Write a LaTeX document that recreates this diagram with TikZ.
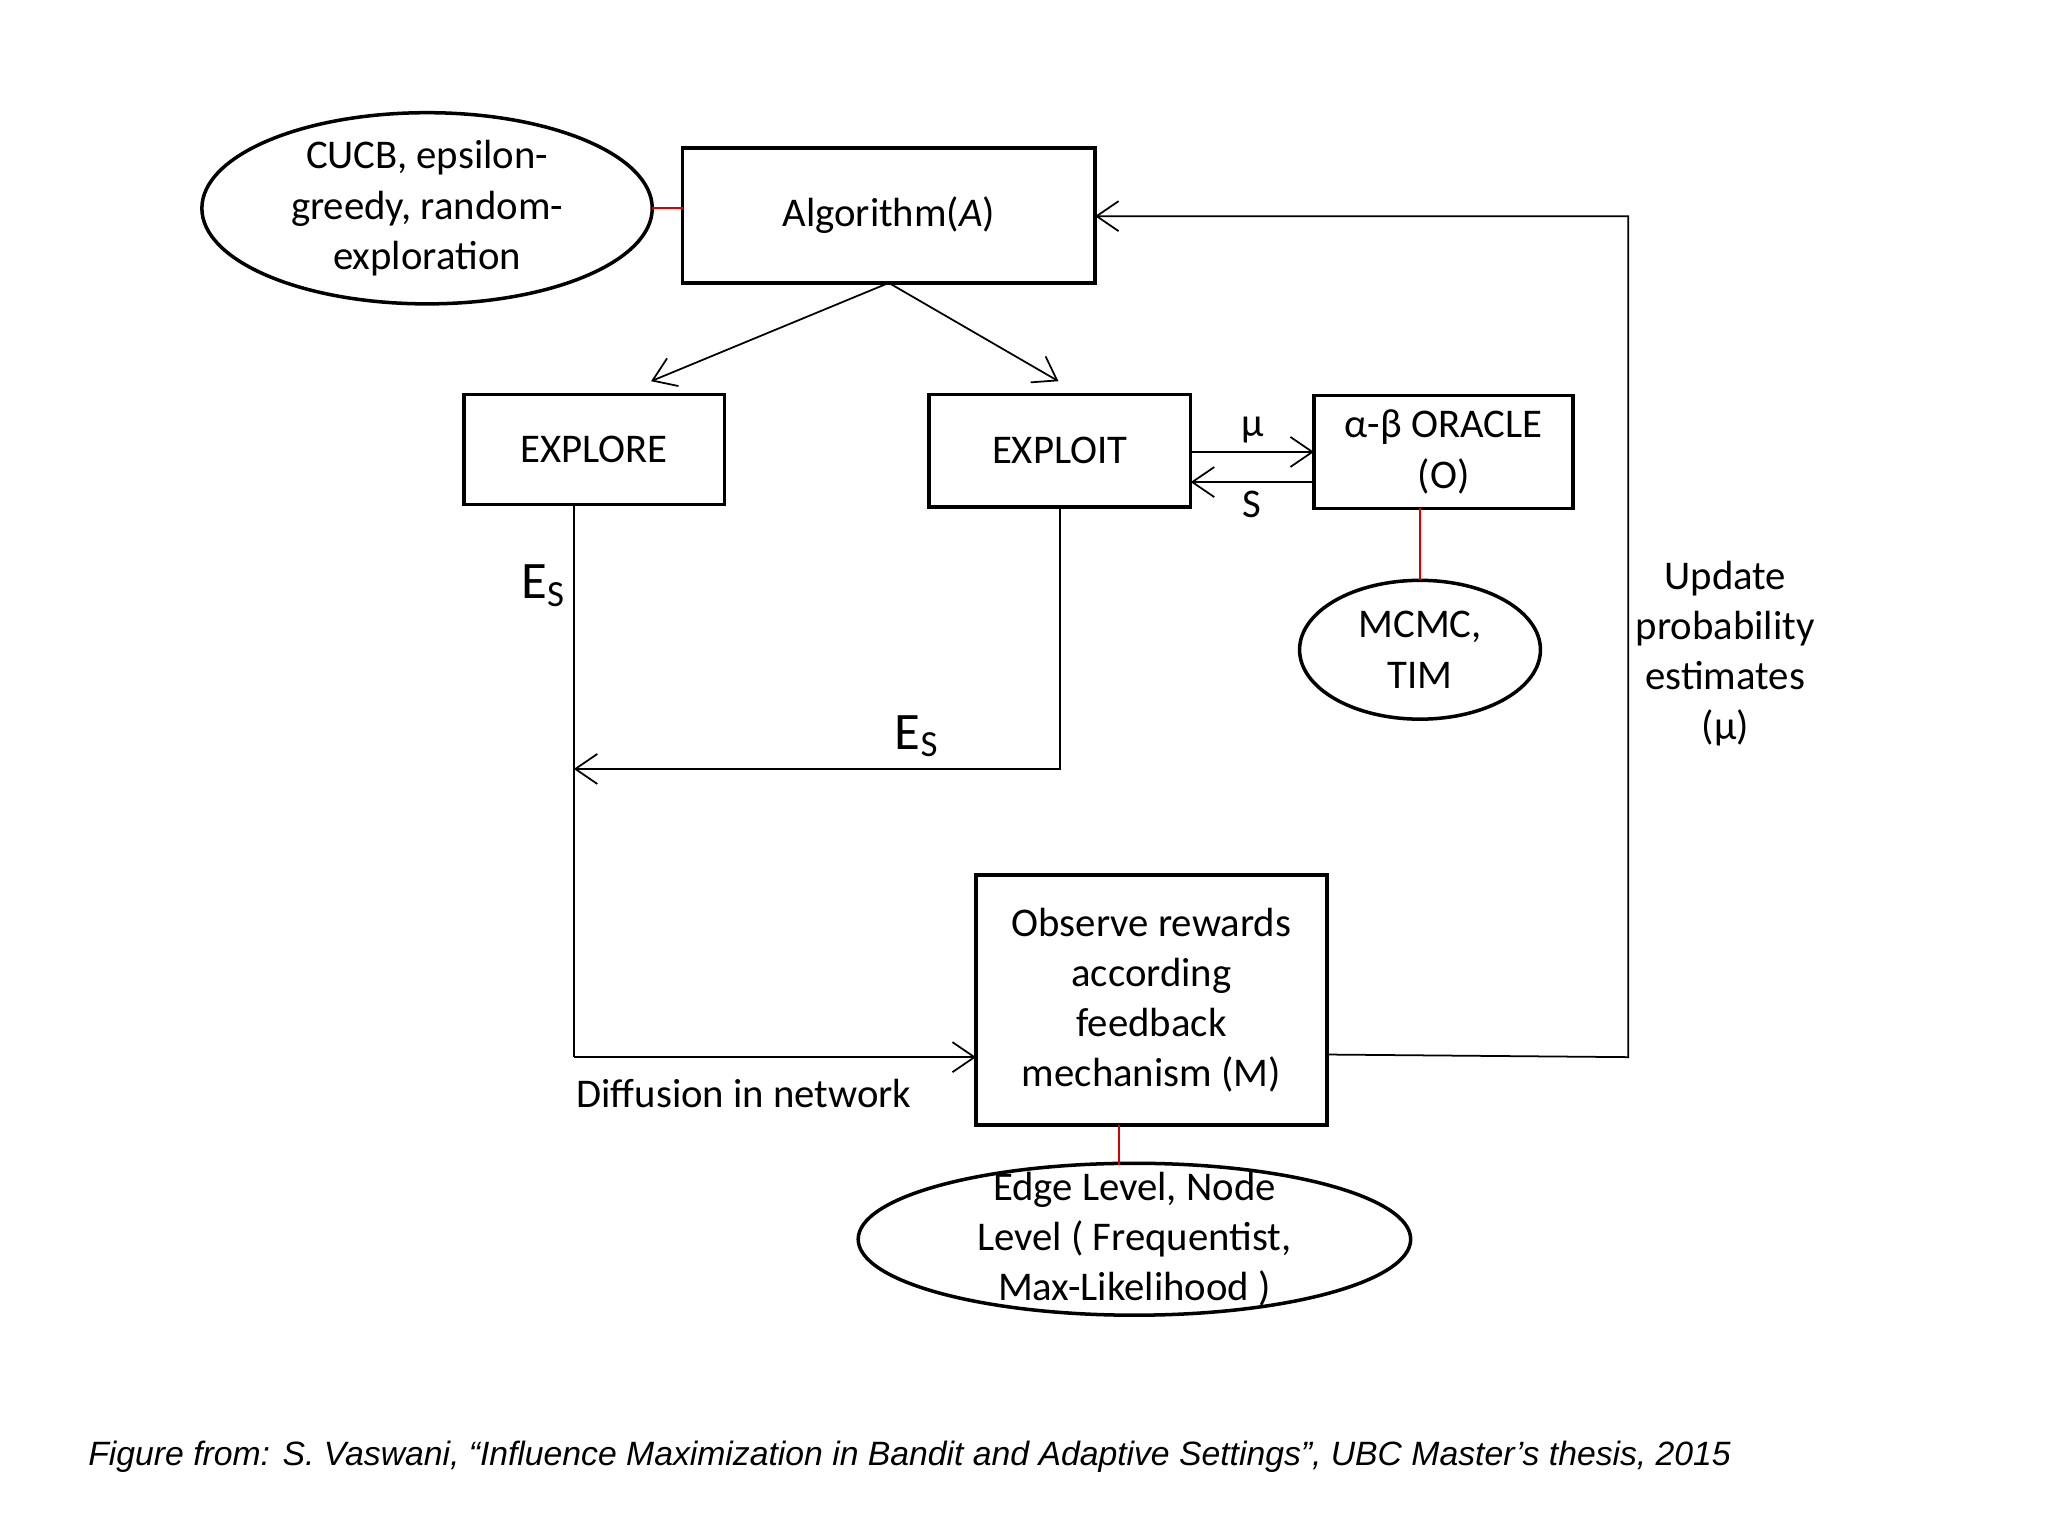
\documentclass[tikz,border=0pt]{standalone}
\usepackage{fontspec}
\setmainfont{Carlito}
\newfontfamily\capfont{Liberation Sans}
\usetikzlibrary{shapes.geometric,arrows.meta}
\begin{document}
\begin{tikzpicture}[x=0.0131cm,y=-0.0131cm,
  box/.style={draw,line width=1pt,inner sep=0,outer sep=0,align=center,font=\fontsize{11.6}{14.3}\selectfont},
  ell/.style={draw,ellipse,line width=1pt,inner sep=0,outer sep=0},
  lab/.style={align=center,font=\fontsize{11.6}{14.3}\selectfont},
  con/.style={line width=0.5pt,-{Straight Barb[length=2.2mm,width=3mm]}},
  red/.style={draw=red!85!black,line width=0.6pt}]
\useasboundingbox (0,0) rectangle (1563.4,1172.5);
\node[box,minimum width=4.127cm,minimum height=1.349cm] (A) at (678.5,164.5) {Algorithm(\textit{A})};
\node[ell,minimum width=4.506cm,minimum height=1.913cm] (C) at (326,159) {};
\node[lab] at (C.center) {CUCB, epsilon-\\greedy, random-\\exploration};
\node[box,minimum width=2.607cm,minimum height=1.1cm] (R) at (453.5,343) {EXPLORE};
\node[box,minimum width=2.62cm,minimum height=1.127cm] (T) at (809,344) {EXPLOIT};
\node[box,minimum width=2.594cm,minimum height=1.127cm] (O) at (1102,345) {α-β ORACLE\\(O)};
\node[ell,minimum width=2.41cm,minimum height=1.389cm] (M) at (1084,496) {};
\node[lab] at (M.center) {MCMC,\\TIM};
\node[box,minimum width=3.511cm,minimum height=2.502cm] (B) at (879,763.5) {Observe rewards\\according\\feedback\\mechanism (M)};
\node[ell,minimum width=5.528cm,minimum height=1.52cm] (E) at (866,946) {};
\node[lab] at (E.center) {Edge Level, Node\\Level ( Frequentist,\\Max-Likelihood )};
\draw[red] (C.east) -- (A.west |- C.east);
\draw[red] (1084,388) -- (M.north);
\draw[red] (854,859) -- (854,889);
\coordinate (a1) at (497,291); \coordinate (a2) at (808,291);
\draw[con] (A.south) -- (a1);
\draw[con] (A.south) -- (a2);
\draw[con] (T.east |- 0,345) -- (O.west |- 0,345) node[lab,midway,above=-1pt] {μ};
\draw[con] (O.west |- 0,368) -- (T.east |- 0,368) node[lab,midway,below=-1pt] {S};
\coordinate (j) at (438,587);
\draw[line width=0.5pt] (438,385) -- (438,807);
\draw[con] (438,807) -- (B.west |- 0,807);
\draw[con] (T.south) -- (809,587) -- (j);
\node[lab,font=\fontsize{15}{18}\selectfont] at (415,447) {E\textsubscript{S}};
\node[lab,font=\fontsize{15}{18}\selectfont] at (700,562) {E\textsubscript{S}};
\node[lab] at (568,835) {Diffusion in network};
\draw[con] (B.east |- 0,805) -- (1243,807) -- (1243,165) -- (A.east |- 0,165);
\node[lab] at (1317,499) {Update\\probability\\estimates\\(μ)};
\node[anchor=west,font=\capfont\itshape\fontsize{9.6}{11}\selectfont] at (58,1112) {Figure from: S. Vaswani, “Influence Maximization in Bandit and Adaptive Settings”, UBC Master’s thesis, 2015};
\end{tikzpicture}
\end{document}
